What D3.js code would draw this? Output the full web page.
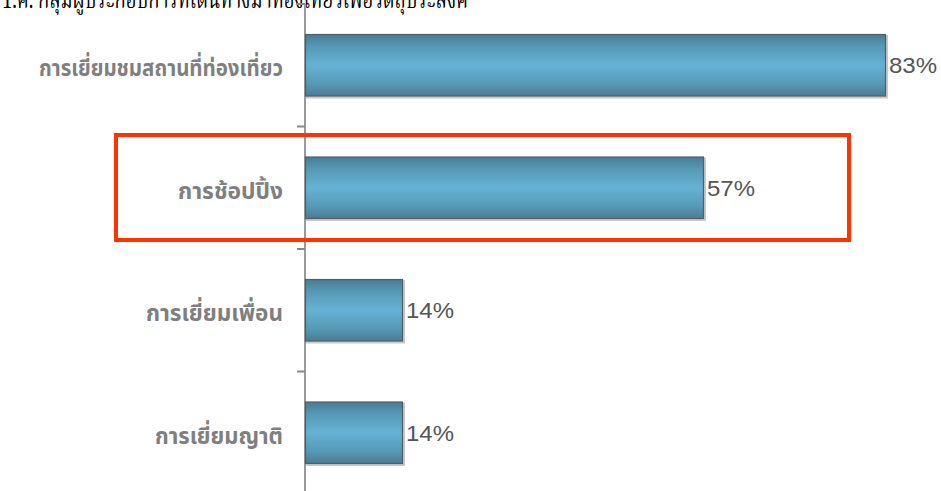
<!DOCTYPE html>
<html>
<head>
<meta charset="utf-8">
<script src="https://cdn.jsdelivr.net/npm/d3@7"></script>
<style>
html,body{margin:0;padding:0;background:#fff;}
svg{display:block;}
</style>
</head>
<body>
<svg id="chart" width="941" height="491"></svg>
<script>
const categories = ["การเยี่ยมชมสถานที่ท่องเที่ยว", "การช้อปปิ้ง", "การเยี่ยมเพื่อน", "การเยี่ยมญาติ"];
const values = [83, 57, 14, 14];
const valueLabels = ["83%", "57%", "14%", "14%"];
const labelWidths = [244, 105, 137, 128];
const highlighted = "การช้อปปิ้ง";
const titleText = "1.ค. กลุ่มผู้ประกอบการที่เดินทางมาท่องเที่ยวเพื่อวัตถุประสงค์";

const svg = d3.select("#chart");
const W = 941, H = 491;
const x0 = 305;

const x = d3.scaleLinear().domain([0, 100]).range([x0, x0 + 700]);
const y = d3.scaleBand().domain(categories).range([4, 494]).paddingInner(0.49).paddingOuter(0.245);

const defs = svg.append("defs");
const g = defs.append("linearGradient").attr("id","barGrad").attr("x1",0).attr("y1",0).attr("x2",0).attr("y2",1);
g.append("stop").attr("offset","0%").attr("stop-color","#4a7c93");
g.append("stop").attr("offset","20%").attr("stop-color","#5799b6");
g.append("stop").attr("offset","50%").attr("stop-color","#66b2d4");
g.append("stop").attr("offset","80%").attr("stop-color","#5799b6");
g.append("stop").attr("offset","100%").attr("stop-color","#4a7c93");

// title (cut off at top, as in the source)
svg.append("text")
  .attr("x", 2).attr("y", 8)
  .attr("font-family", "'Noto Serif Thai','Noto Sans Thai','DejaVu Serif',serif")
  .attr("font-size", 24)
  .attr("fill", "#000")
  .attr("textLength", 466)
  .attr("lengthAdjust", "spacingAndGlyphs")
  .text(titleText);

// axis line
const step = y.step();
const r0 = y.range()[0];
svg.append("line")
  .attr("x1", x0).attr("x2", x0)
  .attr("y1", r0).attr("y2", H)
  .attr("stroke", "#9a9a9a").attr("stroke-width", 2);
svg.selectAll(".tick").data(d3.range(categories.length))
  .join("line")
  .attr("x1", x0 - 8).attr("x2", x0)
  .attr("y1", i => r0 + i * step).attr("y2", i => r0 + i * step)
  .attr("stroke", "#888").attr("stroke-width", 2);

// bars shadow
svg.selectAll(".shadow").data(categories).join("rect")
  .attr("x", x0 + 1)
  .attr("y", d => y(d) + 1)
  .attr("width", (d, i) => x(values[i]) - x0 + 1)
  .attr("height", y.bandwidth() + 1)
  .attr("fill", "#c8c8c8");

svg.selectAll(".bar").data(categories).join("rect")
  .attr("x", x0 + 0.5)
  .attr("y", d => y(d) + 0.5)
  .attr("width", (d, i) => x(values[i]) - x0 - 1)
  .attr("height", y.bandwidth() - 1)
  .attr("fill", "url(#barGrad)")
  .attr("stroke", "#4f5f66").attr("stroke-width", 1.2);

// value labels
svg.selectAll(".val").data(categories).join("text")
  .attr("x", (d, i) => x(values[i]) + 3)
  .attr("y", d => y(d) + y.bandwidth() / 2 + 8)
  .attr("font-family", "Arial, 'Liberation Sans', sans-serif")
  .attr("font-size", 22)
  .attr("fill", "#555")
  .attr("textLength", 48)
  .attr("lengthAdjust", "spacingAndGlyphs")
  .text((d, i) => valueLabels[i]);

// category labels
svg.selectAll(".cat").data(categories).join("text")
  .attr("x", 283)
  .attr("y", d => y(d) + y.bandwidth() / 2 + 11)
  .attr("text-anchor", "end")
  .attr("font-family", "'Noto Sans Thai','Noto Sans','DejaVu Sans',sans-serif")
  .attr("font-weight", "bold")
  .attr("font-size", 23)
  .attr("fill", "#7f7f7f")
  .attr("textLength", (d, i) => labelWidths[i])
  .attr("lengthAdjust", "spacingAndGlyphs")
  .text(d => d);

// highlight box around the highlighted category
const gap = (y.step() - y.bandwidth()) / 2;
svg.append("rect")
  .attr("x", 116)
  .attr("y", y(highlighted) - gap + 8.5)
  .attr("width", x(78) - 116 - 2)
  .attr("height", y.step() - 17.5)
  .attr("fill", "none")
  .attr("stroke", "#ff3300")
  .attr("stroke-width", 4);
</script>
</body>
</html>
